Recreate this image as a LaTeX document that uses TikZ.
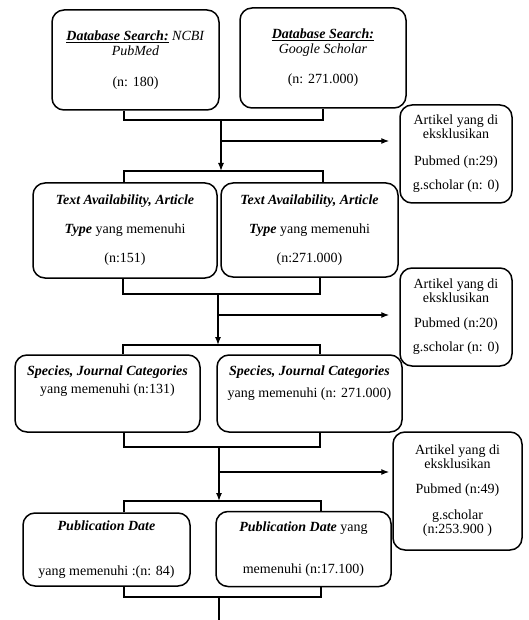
\documentclass[tikz,border=0pt]{standalone}
\usepackage{fontspec}
\setmainfont{Liberation Serif}
\usetikzlibrary{arrows.meta, positioning, calc}

\begin{document}
\begin{tikzpicture}[
    x=1pt, y=-1pt,
    box/.style={draw, rounded corners=12pt, line width=1.5pt, align=center, fill=white, inner sep=2pt, font=\fontsize{14}{14}\selectfont},
    exclbox/.style={box, minimum width=112pt, minimum height=98pt},
    line/.style={line width=1.3pt},
    arrow/.style={-{Latex[length=8pt,width=6pt]}, line width=1.3pt}
]
    \useasboundingbox (0,0) rectangle (528,620);

    % Database search
    \node[box, minimum width=167pt, minimum height=100pt] (pubmed) at (135.5,60) {
        \underline{\textbf{\textit{Database Search:}}} \textit{NCBI}\\[1pt]\textit{PubMed}\\[17pt](n: 180)
    };
    \node[box, minimum width=166pt, minimum height=100pt] (scholar) at (323,58) {
        \underline{\textbf{\textit{Database Search:}}}\\[1pt]\textit{Google Scholar}\\[16pt](n: 271.000)
    };
    \node[exclbox] (excl1) at (456,154) {
        Artikel yang di\\eksklusikan\\[13pt]Pubmed (n:29)\\[10pt]g.scholar (n: 0)
    };

    % Text availability
    \node[box, minimum width=184pt, minimum height=95pt] (textpm) at (125,230.5) {
        \textbf{\textit{Text Availability, Article}}\\[15pt]\textbf{\textit{Type}} yang memenuhi\\[15pt](n:151)
    };
    \node[box, minimum width=177pt, minimum height=94pt] (textgs) at (309.5,230) {
        \textbf{\textit{Text Availability, Article}}\\[15pt]\textbf{\textit{Type}} yang memenuhi\\[15pt](n:271.000)
    };
    \node[exclbox] (excl2) at (456,317) {
        Artikel yang di\\eksklusikan\\[11pt]Pubmed (n:20)\\[10pt]g.scholar (n: 0)
    };

    % Species, journal categories
    \node[box, minimum width=185pt, minimum height=77pt] (specpm) at (107.5,393.5) {
        \textbf{\textit{Species, Journal Categories}}\\[4pt]yang memenuhi (n:131)\\[13pt]\mbox{}
    };
    \node[box, minimum width=185pt, minimum height=77pt] (specgs) at (309.5,393.5) {
        \textbf{\textit{Species, Journal Categories}}\\[8pt]yang memenuhi (n: 271.000)\\[9pt]\mbox{}
    };
    \node[exclbox, minimum width=129pt, minimum height=118pt] (excl3) at (457.5,491) {
        Artikel yang di\\eksklusikan\\[11pt]Pubmed (n:49)\\[12pt]g.scholar\\(n:253.900 )
    };

    % Publication date
    \node[box, minimum width=167pt, minimum height=73pt] (datepm) at (106.5,549.5) {
        \textbf{\textit{Publication Date}}\\[31pt]yang memenuhi :(n: 84)
    };
    \node[box, minimum width=175pt, minimum height=75pt] (dategs) at (303.5,549) {
        \textbf{\textit{Publication Date}} yang\\[28pt]memenuhi (n:17.100)
    };

    % Junction points
    \coordinate (b1l) at (124,120);  \coordinate (b1r) at (323,120);  \coordinate (b1) at (221,120);
    \coordinate (e1) at (221,141);
    \coordinate (t2l) at (124,171);  \coordinate (t2r) at (323,171);  \coordinate (t2) at (221,171);
    \coordinate (b2l) at (123,294);  \coordinate (b2r) at (320,294);  \coordinate (b2) at (218,294);
    \coordinate (e2) at (218,315);
    \coordinate (t3l) at (123,345);  \coordinate (t3r) at (320,345);  \coordinate (t3) at (218,345);
    \coordinate (b3l) at (124,447);  \coordinate (b3r) at (320,447);  \coordinate (b3) at (219,447);
    \coordinate (e3) at (219,472);
    \coordinate (t4l) at (124,501);  \coordinate (t4r) at (321,501);  \coordinate (t4) at (219,501);
    \coordinate (b4l) at (124,597);  \coordinate (b4r) at (321,597);  \coordinate (b4) at (219,597);
    \coordinate (out) at (219,620);

    % Stage 1 -> 2
    \draw[line] (b1l |- pubmed.south) -- (b1l) -- (b1r) -- (b1r |- scholar.south);
    \draw[arrow] (b1) -- (t2);
    \draw[arrow, shorten >=10pt] (e1) -- (e1 -| excl1.west);
    \draw[line] (t2l |- textpm.north) -- (t2l) -- (t2r) -- (t2r |- textgs.north);

    % Stage 2 -> 3
    \draw[line] (b2l |- textpm.south) -- (b2l) -- (b2r) -- (b2r |- textgs.south);
    \draw[arrow] (b2) -- (t3);
    \draw[arrow, shorten >=10pt] (e2) -- (e2 -| excl2.west);
    \draw[line] (t3l |- specpm.north) -- (t3l) -- (t3r) -- (t3r |- specgs.north);

    % Stage 3 -> 4
    \draw[line] (b3l |- specpm.south) -- (b3l) -- (b3r) -- (b3r |- specgs.south);
    \draw[arrow] (b3) -- (t4);
    \draw[arrow, shorten >=3pt] (e3) -- (e3 -| excl3.west);
    \draw[line] (t4l |- datepm.north) -- (t4l) -- (t4r) -- (t4r |- dategs.north);

    % Output
    \draw[line] (b4l |- datepm.south) -- (b4l) -- (b4r) -- (b4r |- dategs.south);
    \draw[line] (b4) -- (out);

\end{tikzpicture}
\end{document}
